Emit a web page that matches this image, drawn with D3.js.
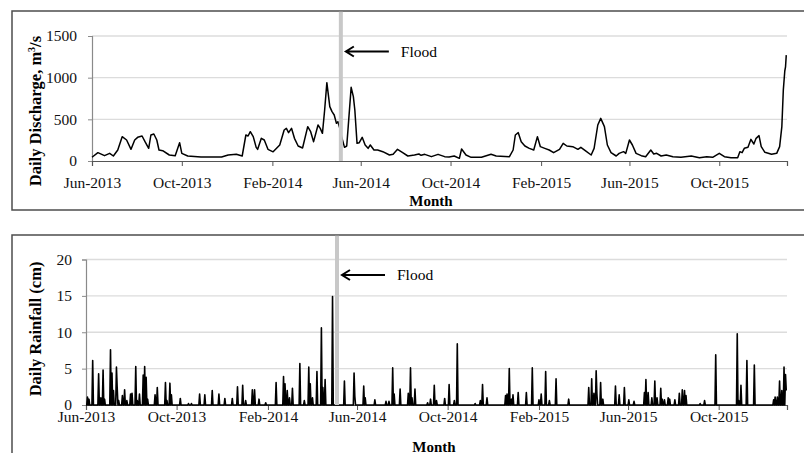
<!DOCTYPE html>
<html>
<head>
<meta charset="utf-8">
<script src="https://cdn.jsdelivr.net/npm/d3@7"></script>
<style>
body { margin: 0; background: #fff; }
text { font-family: "Liberation Serif", "Times New Roman", serif; }
</style>
</head>
<body>
<div id="chart"></div>
<script>
// record runs from 1 Jun 2013 to 1 Jan 2016, values keyed by day offset
var startDate = new Date(2013, 5, 1);
var endDate = new Date(2016, 0, 1);
var floodDate = "2014-05-05";
var tickMonths = ["2013-06", "2013-10", "2014-02", "2014-06", "2014-10", "2015-02", "2015-06", "2015-10"];

var dischargeTicks = [0, 500, 1000, 1500];
var rainTicks = [0, 5, 10, 15, 20];

// [day, m3/s]
var dischargeReadings = [
  [0,45],[8,100],[17,64],[24,92],[29,60],[35,132],[41,292],[47,252],[53,140],[58,252],
  [62,284],[68,300],[72,232],[77,152],[80,312],[84,324],[88,252],[91,132],[96,124],[105,72],
  [113,64],[119,220],[122,92],[130,60],[148,48],[176,48],[185,72],[196,80],[204,60],[209,312],
  [212,300],[215,352],[219,292],[223,164],[225,140],[230,272],[234,252],[239,140],[246,110],[255,192],
  [261,372],[264,392],[267,340],[271,392],[275,272],[280,180],[286,156],[293,412],[297,352],[301,232],
  [307,432],[310,392],[313,332],[316,612],[319,940],[323,652],[326,592],[329,552],[332,452],[334,472],
  [336,412],[339,292],[343,164],[346,180],[348,412],[352,884],[355,772],[357,612],[360,212],[363,220],
  [367,284],[371,192],[375,152],[378,192],[383,132],[388,132],[395,112],[404,72],[409,80],[415,140],
  [422,100],[429,60],[438,72],[444,84],[447,68],[452,80],[461,52],[470,80],[479,52],[485,48],
  [492,60],[499,32],[502,144],[508,72],[515,44],[529,44],[542,80],[549,60],[567,52],[572,132],
  [575,312],[579,340],[583,232],[588,180],[594,152],[600,132],[605,292],[609,172],[615,152],[621,132],
  [627,100],[635,140],[640,212],[645,180],[653,172],[660,140],[664,164],[670,124],[678,72],[682,152],
  [687,432],[691,512],[696,412],[700,192],[705,100],[712,60],[716,92],[722,112],[725,92],[730,252],
  [734,192],[739,92],[746,64],[752,52],[759,132],[763,84],[767,92],[773,60],[780,72],[789,52],
  [800,44],[814,60],[825,40],[835,52],[843,44],[852,92],[859,52],[868,40],[877,40],[880,112],
  [883,100],[886,152],[891,164],[895,260],[899,204],[902,272],[906,304],[909,172],[914,104],[923,80],
  [930,92],[934,172],[937,412],[939,852],[941,1080],[942,1130],[943,1270]
];

// [day, cm] for rainy days; all other days read as zero
var rainReadings = [
  [2,1.1],[4,0.8],[9,6.1],[17,4.3],[20,1.0],[23,4.8],[25,0.8],[33,7.6],[35,4.4],[37,2.0],
  [41,5.2],[42,2.4],[44,0.6],[49,1.3],[52,2.1],[55,0.6],[60,1.5],[62,1.6],[67,5.3],[69,0.6],
  [72,1.5],[77,4.1],[79,5.3],[81,3.8],[83,0.8],[93,1.4],[96,2.4],[107,3.1],[109,0.6],[113,3.0],
  [115,1.4],[127,0.9],[138,0.2],[142,0.2],[153,1.5],[160,1.4],[170,2.0],[179,1.5],[187,0.9],[197,0.9],
  [204,2.5],[211,2.7],[215,0.6],[224,2.1],[227,2.1],[233,0.8],[242,0.3],[256,3.1],[266,3.9],[268,2.9],
  [271,2.0],[274,1.0],[278,2.3],[288,5.7],[294,0.6],[300,5.2],[302,2.9],[305,1.0],[311,4.6],[317,10.6],
  [319,2.4],[322,3.5],[332,14.9],[348,3.3],[361,4.4],[362,1.2],[374,2.6],[376,1.0],[389,0.7],[404,0.5],
  [408,0.5],[413,5.1],[415,1.5],[423,2.2],[434,1.6],[437,5.1],[439,1.0],[443,2.2],[460,0.3],[464,0.8],
  [469,2.7],[472,0.6],[483,0.9],[489,2.8],[496,0.6],[500,8.4],[524,0.2],[531,0.6],[534,2.8],[540,1.0],
  [565,1.3],[567,1.5],[570,5.0],[573,0.8],[575,1.4],[582,1.7],[593,1.7],[601,5.1],[610,0.7],[613,1.5],
  [619,4.6],[624,0.6],[633,3.6],[650,0.8],[677,2.4],[681,3.6],[684,1.6],[687,4.7],[688,1.5],[693,3.1],
  [696,0.8],[713,2.6],[718,1.4],[725,2.4],[731,0.7],[738,0.5],[752,1.7],[754,3.5],[757,1.7],[762,1.0],
  [766,3.3],[769,1.0],[774,2.3],[776,0.8],[779,0.7],[784,1.0],[786,0.8],[793,0.7],[799,1.6],[803,2.1],
  [806,2.0],[808,1.3],[827,0.2],[833,0.6],[848,6.9],[877,9.8],[879,0.6],[882,2.7],[890,6.1],[900,5.5],
  [926,0.7],[928,1.1],[931,1.1],[934,3.3],[937,2.0],[940,5.2],[942,4.2],[943,2.0]
];

var width = 804, height = 453;
var svg = d3.select("#chart").append("svg")
    .attr("width", width)
    .attr("height", height);

var parseMonth = d3.timeParse("%Y-%m");
var parseDay = d3.timeParse("%Y-%m-%d");
var fmt = d3.timeFormat("%b-%Y");

function toDate(day) { return d3.timeDay.offset(startDate, day); }

// daily rainfall series (zero where no rain was read)
var rainLookup = new Map(rainReadings);
var totalDays = d3.timeDay.count(startDate, endDate);
var rainDaily = d3.range(0, totalDays).map(function(d) {
    return [d, rainLookup.has(d) ? rainLookup.get(d) : 0];
});

function drawPanel(p) {
    var g = svg.append("g");

    // panel frame
    g.append("rect")
        .attr("x", p.box.x).attr("y", p.box.y)
        .attr("width", 820).attr("height", p.box.h)
        .attr("fill", "none")
        .attr("stroke", "#4d4d4d")
        .attr("stroke-width", 1.5);

    var x = d3.scaleTime().domain([startDate, endDate]).range([p.left, p.right]);
    var y = d3.scaleLinear().domain([0, p.yMax]).range([p.bottom, p.top]);

    // gridlines
    g.selectAll(".grid")
        .data(p.yTicks.slice(1))
        .enter().append("line")
        .attr("x1", p.left).attr("x2", p.right)
        .attr("y1", function(d) { return y(d); })
        .attr("y2", function(d) { return y(d); })
        .attr("stroke", "#dcdcdc")
        .attr("stroke-width", 1.3);

    // y axis
    var yAxis = g.append("g")
        .attr("transform", "translate(" + p.left + ",0)")
        .call(d3.axisLeft(y).tickValues(p.yTicks).tickSize(4).tickPadding(p.yPad).tickFormat(d3.format("d")));
    yAxis.select(".domain").attr("stroke", "#8a8a8a").attr("stroke-width", 1.2);
    yAxis.selectAll(".tick line").attr("stroke", "#8a8a8a");
    yAxis.selectAll("text").attr("font-size", "15.5px").attr("fill", "#111")
        .style("font-family", "'Liberation Serif', 'Times New Roman', serif");

    // x axis
    var xAxis = g.append("g")
        .attr("transform", "translate(0," + p.bottom + ")")
        .call(d3.axisBottom(x).tickValues(tickMonths.map(parseMonth)).tickSize(5).tickPadding(p.xPad).tickFormat(fmt));
    xAxis.select(".domain").attr("stroke", "#555").attr("stroke-width", 1.2);
    xAxis.selectAll(".tick line").attr("stroke", "#555");
    xAxis.selectAll("text").attr("font-size", "15.5px").attr("fill", "#111")
        .style("font-family", "'Liberation Serif', 'Times New Roman', serif");

    // data line
    var line = d3.line()
        .x(function(d) { return x(toDate(d[0])); })
        .y(function(d) { return y(d[1]); });
    g.append("path")
        .datum(p.data)
        .attr("d", line)
        .attr("fill", "none")
        .attr("stroke", "#000")
        .attr("stroke-width", p.lineW)
        .attr("stroke-linejoin", "round");

    // flood marker
    var fx = x(parseDay(floodDate));
    g.append("rect")
        .attr("x", fx - 2).attr("y", p.box.y + 0.75)
        .attr("width", 4).attr("height", p.bottom - p.box.y - 0.75)
        .attr("fill", "#c8c8c8");

    var ay = p.top + 15.5;
    g.append("path")
        .attr("d", "M" + (fx + 5) + "," + ay + "H" + (fx + 48)
            + "M" + (fx + 13) + "," + (ay - 5) + "L" + (fx + 5) + "," + ay + "L" + (fx + 13) + "," + (ay + 5))
        .attr("fill", "none")
        .attr("stroke", "#000")
        .attr("stroke-width", 2);
    g.append("text")
        .attr("x", fx + 60).attr("y", ay + 5)
        .attr("font-size", "15.5px")
        .text("Flood");

    // axis titles
    g.append("text")
        .attr("x", p.monthX).attr("y", p.monthY)
        .attr("text-anchor", "middle")
        .attr("font-size", "15px")
        .attr("font-weight", "bold")
        .text("Month");

    var yt = g.append("text")
        .attr("transform", "translate(" + p.titleX + "," + p.titleY + ") rotate(-90)")
        .attr("text-anchor", "middle")
        .attr("font-size", "16.5px")
        .attr("font-weight", "bold");
    p.title(yt);
}

drawPanel({
    box: { x: 12, y: 11, h: 199 },
    left: 92, right: 787, top: 36, bottom: 161,
    yMax: 1500, yTicks: dischargeTicks, yPad: 11,
    xPad: 11.3,
    data: dischargeReadings, lineW: 1.5,
    monthX: 431, monthY: 206,
    titleX: 41, titleY: 111,
    title: function(t) {
        t.append("tspan").text("Daily Discharge, m");
        t.append("tspan").attr("dy", -6).attr("font-size", "10px").text("3");
        t.append("tspan").attr("dy", 6).text("/s");
    }
});

drawPanel({
    box: { x: 12, y: 235, h: 250 },
    left: 86, right: 787, top: 259.5, bottom: 405,
    yMax: 20, yTicks: rainTicks, yPad: 10,
    xPad: 1.3,
    data: rainDaily, lineW: 1.6,
    monthX: 434, monthY: 452,
    titleX: 41, titleY: 329,
    title: function(t) { t.text("Daily Rainfall (cm)"); }
});
</script>
</body>
</html>
